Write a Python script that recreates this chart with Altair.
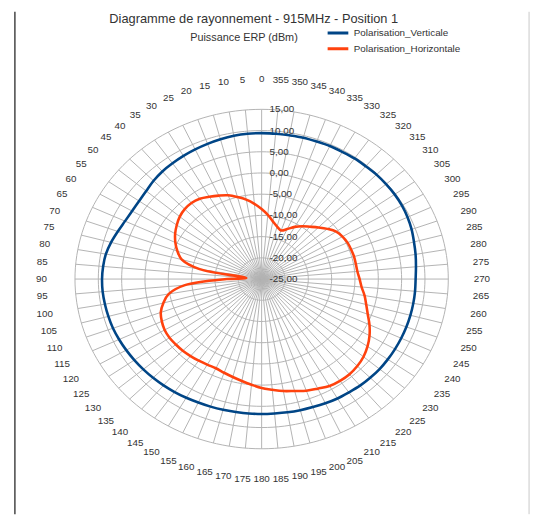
import altair as alt
import pandas as pd

TITLE = "Diagramme de rayonnement - 915MHz - Position 1"
SUBTITLE = "Puissance ERP (dBm)"
SERIES = ["Polarisation_Verticale", "Polarisation_Horizontale"]
COLORS = ["#004586", "#ff420e"]

vert_angles = list(range(0, 360, 5))
vert_values = [9.4, 9.4, 9.3, 9.1, 8.9, 8.7, 8.5, 8.3, 8.1, 7.75, 7.3, 7.05,
               7.05, 7.3, 7.8, 8.4, 8.9, 9.1, 9.2, 9.2, 9.1, 9.0, 8.9, 8.7,
               8.5, 8.3, 8.1, 7.9, 7.7, 7.5, 7.3, 7.1, 7.0, 6.9, 6.8, 6.8,
               6.8, 6.8, 6.9, 7.0, 7.1, 7.3, 7.5, 7.6, 7.8, 7.9, 8.0, 8.0,
               8.0, 8.0, 8.0, 8.0, 8.0, 8.0, 8.0, 8.2, 8.5, 8.8, 9.2, 9.5,
               9.7, 9.8, 9.8, 9.8, 9.7, 9.7, 9.6, 9.6, 9.5, 9.5, 9.4, 9.4]

horiz_angles = [0, 5, 10, 15, 20, 25, 30, 35, 40, 45, 50, 55, 60, 65, 70, 75, 80,
                86, 90, 95, 100, 105, 110, 115, 120, 125, 130, 135, 140, 145,
                150, 155, 160, 165, 170, 175, 180, 185, 190, 195, 200, 205, 210,
                215, 220, 225, 230, 235, 240, 245, 250, 255, 260, 265, 270, 275,
                280, 285, 290, 295, 300, 305, 310, 315, 320, 325, 330, 335, 340,
                345, 350, 355]
horiz_values = [-8.5, -7.2, -6.0, -5.0, -4.0, -3.3, -2.6, -1.9, -1.6, -1.7, -2.1,
                -2.8, -3.6, -4.6, -5.8, -7.3, -11.5,
                -21.7, -17.5, -8.5, -4.8, -3.2, -2.0, -1.4, -1.0, -0.9, -1.0,
                -1.1, -1.3, -1.5, -1.7, -1.8, -1.5, -1.1, -0.6, 0.0, 0.7, 1.2,
                1.8, 2.3, 3.0, 3.5, 4.1, 4.3, 4.3, 4.0, 3.5, 2.7, 1.7, 0.5,
                -0.8, -1.8, -2.6, -3.5, -4.0, -4.4, -4.5, -4.5, -4.6, -4.7,
                -5.0, -5.5, -6.6, -7.8, -8.9, -9.8, -10.8, -12.0, -12.8, -12.2,
                -11.2, -9.8]

radial_ticks = [-25, -20, -15, -10, -5, 0, 5, 10, 15]
radial_tick_labels = ["-25,00", "-20,00", "-15,00", "-10,00", "-5,00",
                      "0,00", "5,00", "10,00", "15,00"]
spoke_angles = list(range(0, 360, 5))
angle_labels = [str(a) for a in spoke_angles]

R_MIN, R_MAX = -25, 15
SPAN = R_MAX - R_MIN
LABEL_R = 47.2  # angle labels, in scale units from centre

# layout (pixels)
W, H = 525, 450
PAD = {"left": 0, "top": 52, "right": 8, "bottom": 8}
CX, CY = 257.5, 219.3        # centre inside plot area
RX, RY = 189.5, 172.3        # outer ring radii
sx, sy = RX / SPAN, RY / SPAN
xs = alt.Scale(domain=[-CX / sx, (W - CX) / sx], nice=False, zero=False)
ys = alt.Scale(domain=[-(H - CY) / sy, CY / sy], nice=False, zero=False)
X = lambda f: alt.X(f, type="quantitative", scale=xs, axis=None)
Y = lambda f: alt.Y(f, type="quantitative", scale=ys, axis=None)

def polar(chart, rfield="r"):
    return chart.transform_calculate(
        px=f"-datum.{rfield}*sin(datum.angle*PI/180)",
        py=f"datum.{rfield}*cos(datum.angle*PI/180)",
    )

GRID = "#b3b3b3"
FONT = "Liberation Sans"
TXT = "#333333"

# rings
ring_rows = []
for v in radial_ticks[1:]:
    for a in range(0, 361, 2):
        ring_rows.append({"ring": v, "angle": a, "r": v - R_MIN})
rings = polar(alt.Chart(pd.DataFrame(ring_rows))).mark_line(
    color=GRID, strokeWidth=1, interpolate="linear"
).encode(x=X("px"), y=Y("py"), detail="ring:N", order="angle:Q")

# spokes
spokes = polar(alt.Chart(pd.DataFrame({"angle": spoke_angles, "r": SPAN}))).transform_calculate(
    zero="0"
).mark_rule(color=GRID, strokeWidth=1).encode(
    x=X("zero"), y=Y("zero"), x2="px:Q", y2="py:Q"
)

# angle labels
alabels = polar(alt.Chart(pd.DataFrame({"angle": spoke_angles, "lab": angle_labels,
                                        "r": LABEL_R}))).mark_text(
    font=FONT, fontSize=10, color=TXT, align="center", baseline="middle"
).encode(x=X("px"), y=Y("py"), text="lab:N")

# radial labels
rlabels = polar(alt.Chart(pd.DataFrame({"v": radial_ticks, "lab": radial_tick_labels,
                                        "angle": 0}))
                .transform_calculate(r=f"datum.v - ({R_MIN})")).mark_text(
    font=FONT, fontSize=10, color=TXT, align="left", baseline="middle", dx=8
).encode(x=X("px"), y=Y("py"), text="lab:N")

# curves
rows = []
for s, angs, vals in [(SERIES[0], vert_angles, vert_values),
                      (SERIES[1], horiz_angles, horiz_values)]:
    for i, (a, v) in enumerate(zip(angs + [360], vals + [vals[0]])):
        rows.append({"series": s, "angle": a, "value": v, "r": v - R_MIN, "i": i})
curves = polar(alt.Chart(pd.DataFrame(rows))).mark_line(
    strokeWidth=2.6, interpolate="catmull-rom"
).encode(
    x=X("px"), y=Y("py"), order="i:Q",
    color=alt.Color("series:N", scale=alt.Scale(domain=SERIES, range=COLORS),
                    sort=SERIES,
                    legend=alt.Legend(orient="none", legendX=185, legendY=-37,
                                      title=SUBTITLE, titleOrient="left",
                                      titleFontSize=11, titleFontWeight="normal",
                                      titleFont=FONT, titleColor=TXT, titlePadding=28,
                                      titleBaseline="alphabetic", titleAnchor="middle",
                                      symbolType="stroke", symbolStrokeWidth=3,
                                      symbolSize=441, labelFont=FONT, labelFontSize=10,
                                      labelColor=TXT, clipHeight=13, rowPadding=3,
                                      labelOffset=4)),
)

frame = pd.DataFrame({"t": [TITLE]})
# chart title
title = alt.Chart(frame).mark_text(
    font=FONT, fontSize=13, color=TXT, align="center", baseline="middle"
).encode(x=alt.value(249.5), y=alt.value(-44.3), text="t:N")

# frame lines of the page
left_line = alt.Chart(frame).mark_rule(color="#444444", strokeWidth=1.5).encode(
    x=alt.value(7), y=alt.value(-52), y2=alt.value(H + 8))
right_line = alt.Chart(frame).mark_rule(color="#c8c8c8", strokeWidth=1).encode(
    x=alt.value(529), y=alt.value(-52), y2=alt.value(H + 8))

chart = alt.layer(rings, spokes, alabels, rlabels, curves, title,
                  left_line, right_line).properties(
    width=W, height=H, padding=PAD, autosize="none",
).configure_view(stroke=None)

chart.save("out.html", embed_options={"renderer": "svg", "actions": False})
